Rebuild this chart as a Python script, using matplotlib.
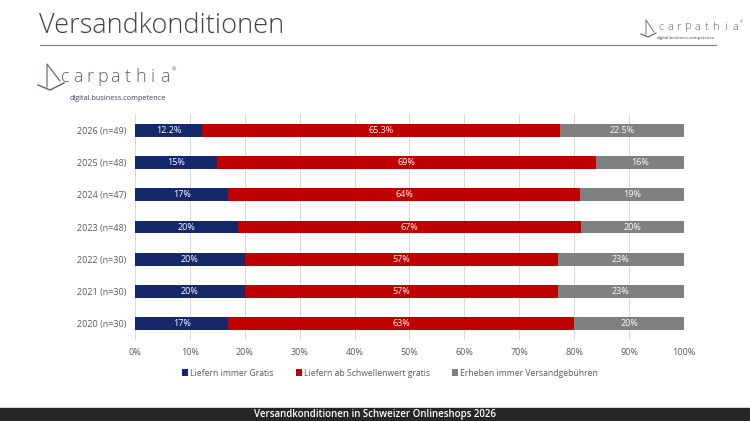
import numpy as np
import matplotlib
matplotlib.use('Agg')
import matplotlib.pyplot as plt
from matplotlib.patches import Rectangle

plt.rcParams['font.family'] = ['Open Sans', 'DejaVu Sans']

# data (top row first, as in the picture)
years = ['2026 (n=49)', '2025 (n=48)', '2024 (n=47)', '2023 (n=48)',
         '2022 (n=30)', '2021 (n=30)', '2020 (n=30)']
immer_gratis = [12.2, 15, 17, 20, 20, 20, 17]
ab_schwelle = [65.3, 69, 64, 67, 57, 57, 63]
versandgebuehr = [22.5, 16, 19, 20, 23, 23, 20]
labels_gratis = ['12.2%', '15%', '17%', '20%', '20%', '20%', '17%']
labels_schwelle = ['65.3%', '69%', '64%', '67%', '57%', '57%', '63%']
labels_gebuehr = ['22.5%', '16%', '19%', '20%', '23%', '23%', '20%']
series_names = ['Liefern immer Gratis', 'Liefern ab Schwellenwert gratis',
                'Erheben immer Versandgebühren']
colors = ['#14286A', '#C00000', '#808080']

# 100% gestapelt -> normieren
raw = np.array([immer_gratis, ab_schwelle, versandgebuehr], dtype=float)
share = raw / raw.sum(axis=0) * 100
texts = [labels_gratis, labels_schwelle, labels_gebuehr]

fig = plt.figure(figsize=(7.5, 4.21), dpi=100)
W, H = 750, 421

def fx(px):
    return px / W

def fy(py):
    return 1 - py / H

# Titel + Linie
fig.text(fx(39), fy(26), 'Versandkonditionen', fontsize=19.5, color='#404040',
         va='center', ha='left', fontweight='light')
fig.add_artist(plt.Line2D([fx(40), fx(716)], [fy(45), fy(45)], color='#7f7f7f', lw=0.8))

# Logos (gesperrter Text + Segel)
def logo(x, y, size, step, sub_dx, sub_dy, sub_size):
    for i, ch in enumerate('carpathia'):
        fig.text(fx(x + i * step + step / 2), fy(y), ch, fontsize=size, color='#5a5f7a',
                 ha='center', va='center', fontweight='light')
    fig.text(fx(x + 9 * step), fy(y - size * 0.55), '®', fontsize=size * 0.3,
             color='#5a5f7a', ha='left', va='center')
    fig.text(fx(x + sub_dx), fy(y + sub_dy), 'digital.business.competence',
             fontsize=sub_size, color='#3c4160', ha='left', va='center')

logo(656, 27, 8, 9.3, 1, 11, 3.2)
fig.add_artist(plt.Line2D([fx(641), fx(648), fx(656)], [fy(34), fy(37), fy(33)],
                          color='#5a5f7a', lw=0.8))
fig.add_artist(plt.Line2D([fx(646), fx(646), fx(654)], [fy(35), fy(20), fy(32)],
                          color='#5a5f7a', lw=0.6))
logo(59, 77, 13, 12.5, 11, 21, 5.2)
fig.add_artist(plt.Line2D([fx(38), fx(50), fx(64)], [fy(85), fy(90), fy(83)],
                          color='#5a5f7a', lw=1.0))
fig.add_artist(plt.Line2D([fx(47), fx(47), fx(60)], [fy(87), fy(64), fy(81)],
                          color='#5a5f7a', lw=0.8))

# Diagramm
ax = fig.add_axes([fx(135), fy(340), fx(684) - fx(135), (340 - 114) / H])
y = np.arange(len(years))
left = np.zeros(len(years))
for k in range(3):
    ax.barh(y, share[k], left=left, height=0.4, color=colors[k],
            label=series_names[k], zorder=3)
    for i in range(len(years)):
        ax.text(left[i] + share[k][i] / 2, y[i], texts[k][i], ha='center',
                va='center', color='white', fontsize=6.5, zorder=4)
    left += share[k]

ax.set_xlim(0, 100)
ax.set_ylim(len(years) - 0.5, -0.5)
ax.set_yticks(y)
ax.set_yticklabels(years, fontsize=6.5, color='#595959')
ax.set_xticks(np.arange(0, 101, 10))
ax.set_xticklabels(['%d%%' % v for v in range(0, 101, 10)], fontsize=6.5, color='#595959')
ax.tick_params(length=0, pad=6)
ax.grid(axis='x', color='#d9d9d9', lw=0.7, zorder=0)
for s in ax.spines.values():
    s.set_visible(False)

leg = fig.legend(loc='center', bbox_to_anchor=(fx(390), fy(373)), ncol=3,
                 frameon=False, fontsize=6.2, handlelength=0.7, handleheight=0.7,
                 handletextpad=0.2, columnspacing=2.6)
for t in leg.get_texts():
    t.set_color('#595959')

# Fusszeile
fig.add_artist(Rectangle((0, 0), 1, (H - 408) / H, transform=fig.transFigure,
                         color='#262626', zorder=0))
fig.text(fx(375), fy(415), 'Versandkonditionen in Schweizer Onlineshops 2026',
         color='white', fontsize=7, ha='center', va='center', fontweight='semibold')

fig.savefig('out.png', dpi=100)
